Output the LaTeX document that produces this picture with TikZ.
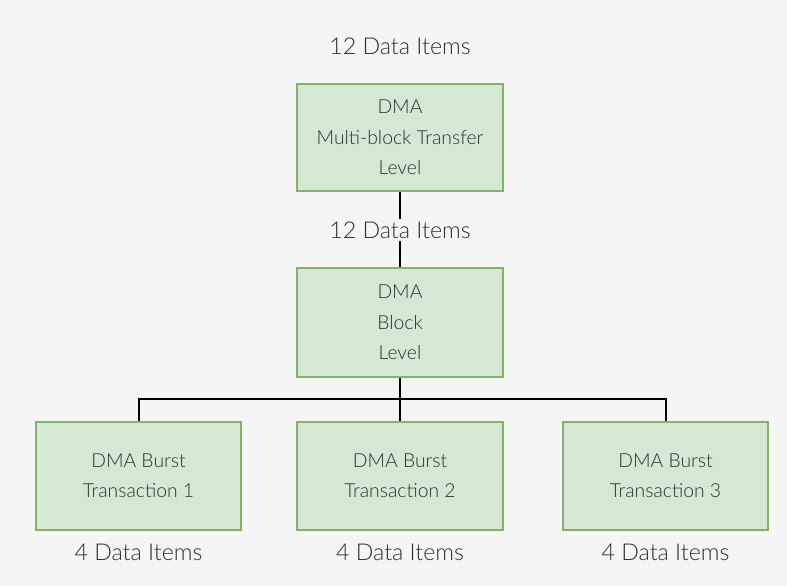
\documentclass[tikz,border=0pt]{standalone}
\usepackage{fontspec}
\setmainfont{Lato}[UprightFont=* Light]
\definecolor{bgc}{HTML}{F5F5F5}
\definecolor{gfill}{HTML}{D5E8D4}
\definecolor{gline}{HTML}{82B366}
\definecolor{txt}{HTML}{2E2E2E}
\begin{document}
\begin{tikzpicture}[x=0.75pt,y=-0.75pt,
  box/.style={draw=gline,fill=gfill,line width=1.5pt,text=txt,align=center,
    font=\fontsize{14.5}{23}\selectfont,inner sep=0pt},
  sbox/.style={box,minimum height=108*0.75pt,font=\fontsize{14.5}{22.5}\selectfont},
  lbl/.style={text=txt,font=\fontsize{17.4}{20}\selectfont,inner sep=0pt},
  conn/.style={draw=black,line width=1.5pt}]
\fill[bgc] (0,0) rectangle (787,586);
\useasboundingbox (0,0) rectangle (787,586);
\node[lbl] (t1) at (400,46) {12 Data Items};
\node[box,minimum width=206*0.75pt,minimum height=107*0.75pt] (b1) at (400,137.5) {DMA\\Multi-block Transfer\\Level};
\node[lbl,fill=bgc,inner sep=2pt] (t2) at (400,230) {12 Data Items};
\node[box,minimum width=206*0.75pt,minimum height=109*0.75pt] (b2) at (400,322.5) {DMA\\Block\\Level};
\node[sbox,minimum width=205*0.75pt] (c1) at (138.5,476) {DMA Burst\\Transaction 1};
\node[sbox,minimum width=206*0.75pt] (c2) at (400,476) {DMA Burst\\Transaction 2};
\node[sbox,minimum width=205*0.75pt] (c3) at (665.5,476) {DMA Burst\\Transaction 3};
\node[lbl] (d1) at (138.5,552) {4 Data Items};
\node[lbl] (d2) at (400,552) {4 Data Items};
\node[lbl] (d3) at (665.5,552) {4 Data Items};
\coordinate (j) at (400,399);
\draw[conn] (b1.south) -- (t2.north);
\draw[conn] (t2.south) -- (b2.north);
\draw[conn] (b2.south) -- (c2.north);
\draw[conn] (j) -| (c1.north);
\draw[conn] (j) -| (c3.north);
\end{tikzpicture}
\end{document}
